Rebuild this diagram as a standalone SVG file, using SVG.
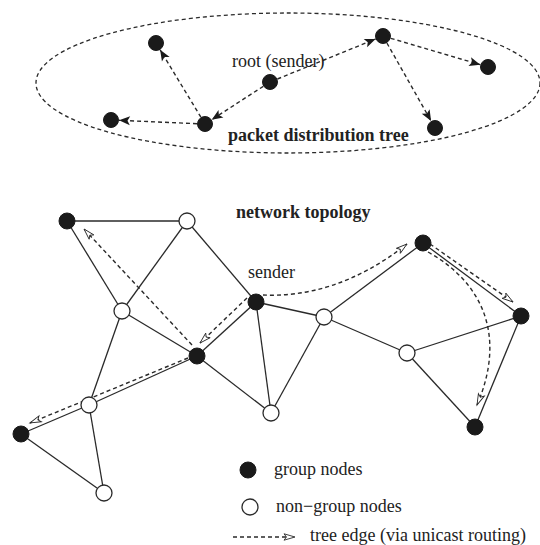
<svg xmlns="http://www.w3.org/2000/svg" width="540" height="545" viewBox="0 0 540 545">
<style>
.bg{fill:#fff}
.edge{stroke:#2a2a2a;stroke-width:1.3;fill:none}
.tree{stroke:#2a2a2a;stroke-width:1.4;fill:none;stroke-dasharray:4 3}
.ell{stroke:#2a2a2a;stroke-width:1.3;fill:none;stroke-dasharray:4 3}
.g{fill:#1a1a1a;stroke:#1a1a1a;stroke-width:1}
.n{fill:#fff;stroke:#2a2a2a;stroke-width:1.3}
.t{font-family:"Liberation Serif","Times New Roman",serif;font-size:18px;fill:#222}
.b{font-weight:bold}
</style>
<defs>
<marker id="ah" markerUnits="userSpaceOnUse" markerWidth="12" markerHeight="10" refX="11" refY="4.5" orient="auto" overflow="visible">
<path d="M0,0 L11,4.5 L0,9 L2.5,4.5 Z" fill="#1a1a1a" stroke="none"/>
</marker>
<marker id="oh" markerUnits="userSpaceOnUse" markerWidth="13" markerHeight="9" refX="11" refY="4" orient="auto" overflow="visible">
<path d="M0,0.8 L11,4 L0,7.2 L2.5,4 Z" fill="#fff" stroke="#2a2a2a" stroke-width="0.9" stroke-dasharray="none"/>
</marker>
</defs>
<rect class="bg" x="0" y="0" width="540" height="545"/>

<!-- packet distribution tree -->
<ellipse class="ell" cx="288" cy="83" rx="252" ry="70"/>
<g id="tree-connectors">
<path class="tree" d="M277.4,79 L375.6,39" marker-end="url(#ah)"/>
<path class="tree" d="M263.3,86.3 L211.7,119.7" marker-end="url(#ah)"/>
<path class="tree" d="M200.9,117.2 L160.1,49.8" marker-end="url(#ah)"/>
<path class="tree" d="M197,123.7 L119,120.3" marker-end="url(#ah)"/>
<path class="tree" d="M390.7,38.3 L480.3,64.7" marker-end="url(#ah)"/>
<path class="tree" d="M386.9,43 L431.1,121" marker-end="url(#ah)"/>
</g>
<g id="t-root"><circle class="g" cx="270" cy="82" r="7.5"/></g>
<g id="t-p"><circle class="g" cx="383" cy="36" r="7.5"/></g>
<g id="t-q"><circle class="g" cx="488" cy="67" r="7.5"/></g>
<g id="t-t"><circle class="g" cx="435" cy="128" r="7.5"/></g>
<g id="t-u"><circle class="g" cx="205" cy="124" r="7.5"/></g>
<g id="t-v"><circle class="g" cx="156" cy="43" r="7.5"/></g>
<g id="t-w"><circle class="g" cx="111" cy="120" r="7.5"/></g>
<text class="t" x="232" y="67">root (sender)</text>
<text class="t b" x="228" y="141">packet distribution tree</text>

<!-- network topology -->
<text class="t b" x="236" y="218">network topology</text>
<text class="t" x="248" y="278">sender</text>

<g id="connectors">
<g id="links">
<line class="edge" x1="67" y1="221" x2="187" y2="221"/>
<line class="edge" x1="67" y1="221" x2="122" y2="311"/>
<line class="edge" x1="187" y1="221" x2="122" y2="311"/>
<line class="edge" x1="187" y1="221" x2="256" y2="302"/>
<line class="edge" x1="122" y1="311" x2="197" y2="356"/>
<line class="edge" x1="122" y1="311" x2="89" y2="405"/>
<line class="edge" x1="256" y1="302" x2="197" y2="356"/>
<line class="edge" x1="256" y1="302" x2="271" y2="413"/>
<line class="edge" x1="256" y1="302" x2="324" y2="317"/>
<line class="edge" x1="197" y1="356" x2="271" y2="413"/>
<line class="edge" x1="197" y1="356" x2="89" y2="405"/>
<line class="edge" x1="89" y1="405" x2="21" y2="434"/>
<line class="edge" x1="89" y1="405" x2="104" y2="493"/>
<line class="edge" x1="21" y1="434" x2="104" y2="493"/>
<line class="edge" x1="271" y1="413" x2="324" y2="317"/>
<line class="edge" x1="324" y1="317" x2="423" y2="243"/>
<line class="edge" x1="324" y1="317" x2="407" y2="353"/>
<line class="edge" x1="423" y1="243" x2="521" y2="316"/>
<line class="edge" x1="407" y1="353" x2="521" y2="316"/>
<line class="edge" x1="407" y1="353" x2="475" y2="427"/>
<line class="edge" x1="521" y1="316" x2="475" y2="427"/>
</g>
<g id="tree-edges">
<path class="tree" d="M263,295 C305,297 355,285 407,244" marker-end="url(#oh)"/>
<path class="tree" d="M430,244 L513,302" marker-end="url(#oh)"/>
<path class="tree" d="M428,252 C482,282 507,335 477,405" marker-end="url(#oh)"/>
<path class="tree" d="M247,298 L200,343" marker-end="url(#oh)"/>
<path class="tree" d="M192,345 L84,229" marker-end="url(#oh)"/>
<path class="tree" d="M188,358 L30,423" marker-end="url(#oh)"/>
</g>
</g>

<g id="node-a"><circle class="g" cx="67" cy="221" r="8"/></g>
<g id="node-b"><circle class="n" cx="187" cy="221" r="8"/></g>
<g id="node-c"><circle class="n" cx="122" cy="311" r="8"/></g>
<g id="node-s"><circle class="g" cx="256" cy="302" r="8"/></g>
<g id="node-d"><circle class="g" cx="197" cy="356" r="8"/></g>
<g id="node-g"><circle class="n" cx="324" cy="317" r="8"/></g>
<g id="node-j"><circle class="g" cx="423" cy="243" r="8"/></g>
<g id="node-l"><circle class="g" cx="521" cy="316" r="8"/></g>
<g id="node-k"><circle class="n" cx="407" cy="353" r="8"/></g>
<g id="node-m"><circle class="g" cx="475" cy="427" r="8"/></g>
<g id="node-e"><circle class="n" cx="89" cy="405" r="8"/></g>
<g id="node-h"><circle class="g" cx="21" cy="434" r="8"/></g>
<g id="node-i"><circle class="n" cx="104" cy="493" r="8"/></g>
<g id="node-f"><circle class="n" cx="271" cy="413" r="8"/></g>

<!-- legend -->
<g id="legend">
<circle class="g" cx="248" cy="470" r="8"/>
<text class="t" x="274" y="475">group nodes</text>
<circle class="n" cx="250" cy="507" r="8"/>
<text class="t" x="276" y="512">non−group nodes</text>
<path class="tree" d="M233,537 L295,537" marker-end="url(#oh)"/>
<text class="t" x="310" y="541">tree edge (via unicast routing)</text>
</g>
</svg>
